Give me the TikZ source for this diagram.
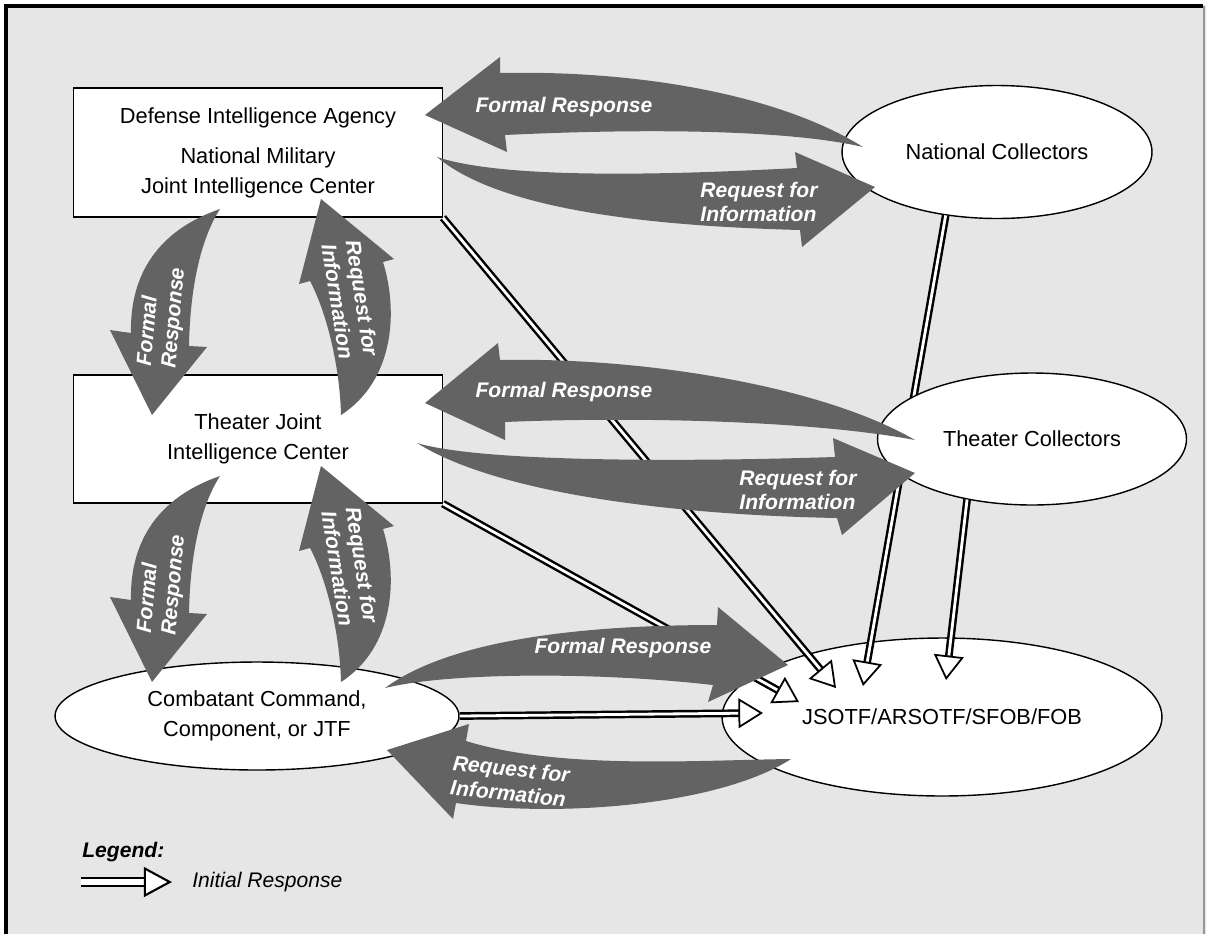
\documentclass[tikz,border=0pt]{standalone}
\usepackage{fontspec}
\setmainfont{Liberation Sans}
\usetikzlibrary{shapes.geometric,arrows.meta,calc}
\definecolor{bggray}{RGB}{230,230,230}
\definecolor{arrowgray}{RGB}{99,99,99}
\definecolor{framegray}{RGB}{150,150,150}
\tikzstyle{unit}=[draw,thick,fill=white,inner sep=0pt,font=\fontsize{12.4}{17}\selectfont,align=center]
\tikzstyle{initouter}=[line width=4.4pt,shorten >=12pt]
\tikzstyle{initinner}=[white,line width=1.6pt,shorten >=11pt]
\tikzstyle{inithead}=[line width=1pt,-{Triangle[length=14pt,width=17pt,fill=white]}]

\newcommand{\initresp}[2]{%
  \draw[initouter] (#1) -- (#2);
  \draw[initinner] (#1) -- (#2);
  \draw[inithead] ($(#2)!14pt!(#1)$) -- (#2);
}

\begin{document}
\begin{tikzpicture}[x=0.02cm,y=-0.02cm]

\tikzstyle{box}=[unit,rectangle,minimum width=7.37cm,minimum height=2.58cm]
\tikzstyle{oval}=[unit,ellipse]
\tikzstyle{fat}=[fill=arrowgray]
\tikzstyle{fatlabel}=[text=white,font=\fontsize{12}{14}\selectfont\bfseries\itshape,align=left,inner sep=0pt]

\useasboundingbox (0,0) rectangle (1206,934);
\fill[bggray] (5,5) rectangle (1206,934);
\draw[line width=1.8pt] (6,934) -- (6,6) -- (1203,6);
\draw[framegray,line width=0.8pt] (1204,6) -- (1204,934);

\node (dia) [box] at (258,152.5) {Defense Intelligence Agency\\[5.7pt]
                                  National Military\\Joint Intelligence Center};
\node (tjic) [box,minimum height=2.56cm] at (258,439) {Theater Joint\\Intelligence Center};
\node (cc) [oval,minimum width=8.08cm,minimum height=2.16cm] at (257,716) {Combatant Command,\\Component, or JTF};
\node (nc) [oval,minimum width=6.2cm,minimum height=2.66cm] at (997,152) {National Collectors};
\node (jsotf) [oval,minimum width=8.8cm,minimum height=3.16cm] at (942,717) {JSOTF/ARSOTF/SFOB/FOB};

% initial responses
\coordinate (jdia) at (836,688);
\coordinate (jnc) at (863,686);
\coordinate (jtc) at (946,680);
\coordinate (jtjic) at (799,702);
\coordinate (jcc) at (763,713);

\initresp{nc.231}{jnc}
\node (tc) [oval,minimum width=6.18cm,minimum height=2.64cm] at (1032,439) {Theater Collectors};
\initresp{dia.south east}{jdia}
\initresp{tjic.south east}{jtjic}
\initresp{cc.east}{jcc}
\initresp{tc.223}{jtc}

% top row
\fill[fat] (863,147) .. controls (780,95) and (640,70) .. (500,73) -- (500,57) -- (425,115) -- (507,152)
  -- (505,135) .. controls (650,128) and (790,130) .. cycle;
\node (fr1) [fatlabel] at (564,107) {Formal Response};
\fill[fat] (437,157) .. controls (500,178) and (650,176) .. (797,168) -- (795,152) -- (875,187) -- (802,247)
  -- (800,230) .. controls (650,226) and (500,210) .. cycle;
\node (rfi1) [fatlabel] at (759,202) {Request for\\Information};

% middle row
\fill[fat] (915,440) .. controls (820,385) and (640,357) .. (500,360) -- (498,343) -- (425,403) -- (505,440)
  -- (505,422) .. controls (650,416) and (820,422) .. cycle;
\node (fr2) [fatlabel] at (564,392) {Formal Response};
\fill[fat] (417,443) .. controls (480,462) and (680,462) .. (835,457) -- (833,438) -- (915,473) -- (842,535)
  -- (837,518) .. controls (680,515) and (500,495) .. cycle;
\node (rfi2) [fatlabel] at (798,490) {Request for\\Information};

% bottom row
\fill[fat] (385,688) .. controls (450,640) and (580,625) .. (717,625) -- (718,607) -- (788,665) -- (708,702)
  -- (713,685) .. controls (600,672) and (450,672) .. cycle;
\node (fr3) [fatlabel] at (623,648) {Formal Response};
\fill[fat] (791,759) .. controls (700,760) and (560,770) .. (466,741) -- (469,724) -- (387,750) -- (453,819)
  -- (456,803) .. controls (560,818) and (720,805) .. cycle;
\node (rfi3) [fatlabel,rotate=-6] at (510,781) {Request for\\Information};

% between DIA and theater JIC
\fill[fat] (220,209) .. controls (145,235) and (130,290) .. (131,333) -- (110,330) -- (152,415) -- (207,347)
  -- (189,346) .. controls (190,290) and (200,240) .. cycle;
\node (fr4) [fatlabel,rotate=85] at (162,317) {Formal\\Response};
\fill[fat] (321,199) -- (394,259) -- (383,262) .. controls (398,310) and (395,380) .. (341,415)
  .. controls (340,370) and (328,315) .. (310,281) -- (299,284) -- cycle;
\node (rfi4) [fatlabel,rotate=-81] at (350,300) {Request for\\Information};

% between theater JIC and combatant command
\fill[fat] (220,476) .. controls (145,502) and (130,557) .. (131,600) -- (110,597) -- (152,682) -- (207,614)
  -- (189,613) .. controls (190,557) and (200,507) .. cycle;
\node (fr5) [fatlabel,rotate=85] at (162,584) {Formal\\Response};
\fill[fat] (321,466) -- (394,526) -- (383,529) .. controls (398,577) and (395,647) .. (341,682)
  .. controls (340,637) and (328,582) .. (310,548) -- (299,551) -- cycle;
\node (rfi5) [fatlabel,rotate=-81] at (350,567) {Request for\\Information};

% legend
\node (legend) [anchor=west,inner sep=0pt,font=\fontsize{12}{14}\selectfont\bfseries\itshape] at (82,852) {Legend:};
\coordinate (lgs) at (81,882);
\coordinate (lge) at (172,882);
\begin{scope}[initouter/.style={line width=5.8pt,shorten >=15pt},
              initinner/.style={white,line width=3.2pt,shorten >=14pt},
              inithead/.style={line width=1.2pt,-{Triangle[length=16pt,width=17pt,fill=white]}}]
\initresp{lgs}{lge}
\end{scope}
\node (initlbl) [anchor=west,inner sep=0pt,font=\fontsize{12}{14}\selectfont\itshape] at (192,882) {Initial Response};

\end{tikzpicture}
\end{document}
